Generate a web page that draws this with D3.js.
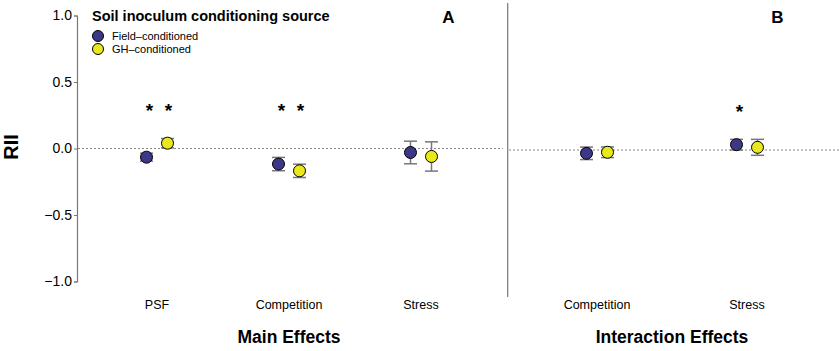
<!DOCTYPE html>
<html>
<head>
<meta charset="utf-8">
<script src="https://cdn.jsdelivr.net/npm/d3@7"></script>
<style>
  body { margin: 0; background: #fff; }
  text { font-family: "Liberation Sans", Arial, Helvetica, sans-serif; }
</style>
</head>
<body>
<div id="chart"></div>
<script>
// main effects (panel A)
const mainCats = ["PSF", "Competition", "Stress"];
const mainField = [-0.065, -0.117, -0.03];
const mainFieldErr = [0.03, 0.05, 0.085];
const mainGH = [0.04, -0.168, -0.06];
const mainGHErr = [0.035, 0.05, 0.11];
const mainFieldSig = [true, true, false];
const mainGHSig = [true, true, false];

// interaction effects (panel B)
const intCats = ["Competition", "Stress"];
const intField = [-0.025, 0.04];
const intFieldErr = [0.047, 0.04];
const intGH = [-0.017, 0.02];
const intGHErr = [0.04, 0.06];
const intFieldSig = [false, true];
const intGHSig = [false, false];

const yTicks = [-1.0, -0.5, 0.0, 0.5, 1.0];
const sources = ["Field\u2013conditioned", "GH\u2013conditioned"];
const colors = ["#3d3788", "#e8e81c"];

const width = 840, height = 351;
const svg = d3.select("#chart").append("svg")
    .attr("width", width)
    .attr("height", height);

const y = d3.scaleLinear().domain([-1, 1]).range([281.5, 15.5]);
const yB = d3.scaleLinear().domain([-1, 1]).range([283, 17]);
const xA = d3.scalePoint().domain(mainCats).range([157, 421]);
const xB = d3.scalePoint().domain(intCats).range([597, 747]);
const dodge = 10.5;

// y axis
const yAxis = svg.append("g")
    .attr("transform", "translate(77,0)")
    .call(d3.axisLeft(y).tickValues(yTicks).tickSize(3).tickPadding(2)
        .tickFormat(d => d3.format(".1f")(d).replace("-", "\u2212")));
yAxis.select(".domain").attr("stroke", "#777").attr("stroke-width", 1.2);
yAxis.selectAll(".tick line").attr("stroke", "#777");
yAxis.selectAll("text").attr("font-size", "14px").attr("fill", "#000")
    .attr("font-family", "Liberation Sans, Arial, sans-serif");

// divider
svg.append("line")
    .attr("x1", 507.7).attr("x2", 507.7)
    .attr("y1", 3).attr("y2", 297)
    .attr("stroke", "#777").attr("stroke-width", 1.2);

// zero lines
svg.append("line")
    .attr("x1", 78).attr("x2", 503)
    .attr("y1", y(0)).attr("y2", y(0))
    .attr("stroke", "#888").attr("stroke-dasharray", "2,2");
svg.append("line")
    .attr("x1", 509).attr("x2", 840)
    .attr("y1", yB(0)).attr("y2", yB(0))
    .attr("stroke", "#888").attr("stroke-dasharray", "2,2");

function drawPanel(cats, x, yS, series) {
    series.forEach((s, si) => {
        const off = si === 0 ? -dodge : dodge;
        const g = svg.append("g");
        cats.forEach((c, i) => {
            const cx = x(c) + off;
            const v = s.vals[i], e = s.errs[i];
            g.append("line")
                .attr("x1", cx).attr("x2", cx)
                .attr("y1", yS(v - e)).attr("y2", yS(v + e))
                .attr("stroke", "#777").attr("stroke-width", 1.5);
            [v - e, v + e].forEach(b => {
                g.append("line")
                    .attr("x1", cx - 6.5).attr("x2", cx + 6.5)
                    .attr("y1", yS(b)).attr("y2", yS(b))
                    .attr("stroke", "#777").attr("stroke-width", 1.5);
            });
            g.append("circle")
                .attr("cx", cx).attr("cy", yS(v)).attr("r", 6)
                .attr("fill", colors[si])
                .attr("stroke", "#000").attr("stroke-width", 1);
            if (s.sig[i]) {
                g.append("text")
                    .attr("x", cx + (si === 0 ? 3 : 1))
                    .attr("y", yS(0.32) + 11)
                    .attr("text-anchor", "middle")
                    .attr("font-size", "19px")
                    .attr("font-weight", "bold")
                    .text("*");
            }
        });
    });
    // category labels
    svg.append("g").selectAll("text")
        .data(cats)
        .join("text")
        .attr("x", d => x(d))
        .attr("y", 309)
        .attr("text-anchor", "middle")
        .attr("font-size", "12.5px")
        .text(d => d);
}

drawPanel(mainCats, xA, y, [
    {vals: mainField, errs: mainFieldErr, sig: mainFieldSig},
    {vals: mainGH, errs: mainGHErr, sig: mainGHSig}
]);
drawPanel(intCats, xB, yB, [
    {vals: intField, errs: intFieldErr, sig: intFieldSig},
    {vals: intGH, errs: intGHErr, sig: intGHSig}
]);

// axis titles
svg.append("text")
    .attr("transform", "translate(18,147) rotate(-90)")
    .attr("text-anchor", "middle")
    .attr("font-size", "20px")
    .attr("font-weight", "bold")
    .text("RII");

svg.append("text")
    .attr("x", 289).attr("y", 343)
    .attr("text-anchor", "middle")
    .attr("font-size", "17.5px")
    .attr("font-weight", "bold")
    .text("Main Effects");

svg.append("text")
    .attr("x", 672).attr("y", 343)
    .attr("text-anchor", "middle")
    .attr("font-size", "17.5px")
    .attr("font-weight", "bold")
    .text("Interaction Effects");

// panel letters
svg.append("text")
    .attr("x", 448.5).attr("y", 22.5)
    .attr("text-anchor", "middle")
    .attr("font-size", "17px").attr("font-weight", "bold")
    .text("A");
svg.append("text")
    .attr("x", 777.5).attr("y", 22.5)
    .attr("text-anchor", "middle")
    .attr("font-size", "17px").attr("font-weight", "bold")
    .text("B");

// legend
svg.append("text")
    .attr("x", 92).attr("y", 20.5)
    .attr("font-size", "14.5px")
    .attr("font-weight", "bold")
    .text("Soil inoculum conditioning source");

const leg = svg.append("g").selectAll("g")
    .data(sources)
    .join("g")
    .attr("transform", (d, i) => `translate(98,${36 + i * 13})`);
leg.append("circle")
    .attr("r", 5.5)
    .attr("fill", (d, i) => colors[i])
    .attr("stroke", "#000").attr("stroke-width", 1);
leg.append("text")
    .attr("x", 14).attr("y", 4)
    .attr("font-size", "11px")
    .text(d => d);
</script>
</body>
</html>
